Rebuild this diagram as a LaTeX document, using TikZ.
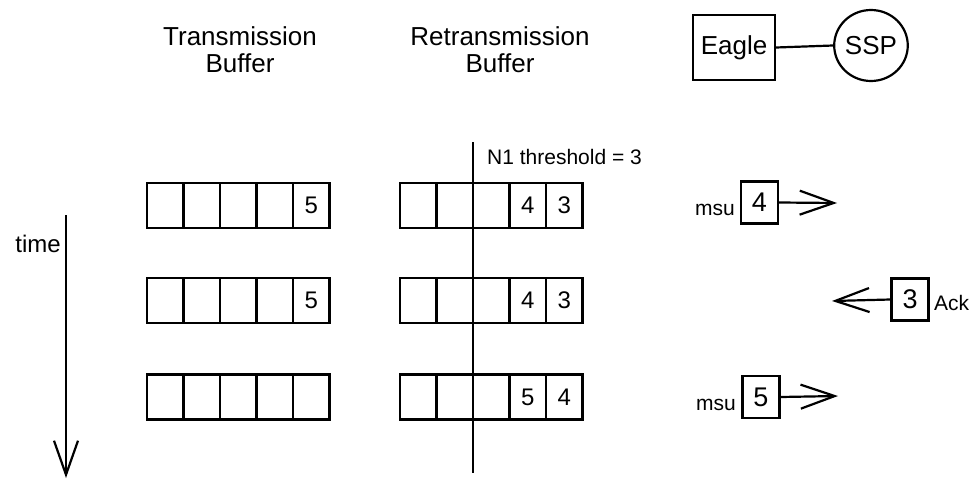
\documentclass[tikz,border=0pt]{standalone}
\usepackage{fontspec}
\setmainfont{Liberation Sans}
\usetikzlibrary{arrows.meta,positioning,shapes.geometric}

\begin{document}
\begin{tikzpicture}[
    x=1pt, y=1pt,
    cell/.style={draw, line width=2.2pt, minimum width=36.5pt, minimum height=45pt, inner sep=0pt, outer sep=0pt, font=\fontsize{24}{24}\selectfont},
    title/.style={align=center, font=\fontsize{26}{27}\selectfont},
    msgbox/.style={draw, line width=2.2pt, minimum width=37pt, minimum height=42pt, inner sep=0pt, font=\fontsize{27}{27}\selectfont},
    lbl/.style={inner sep=0pt, font=\fontsize{21}{21}\selectfont},
    flow/.style={-{Straight Barb[length=34pt, width=24pt]}, line width=2.2pt},
    plain/.style={line width=2.2pt}
]
\useasboundingbox (0,0) rectangle (970,-479);

% headings
\node[title] (txhead) at (240,-50) {Transmission\\Buffer};
\node[title] (rxhead) at (500,-50) {Retransmission\\Buffer};

\node[draw, line width=2.2pt, minimum width=82pt, minimum height=65pt, inner sep=0pt, font=\fontsize{26}{26}\selectfont] (eagle) at (734,-47.5) {Eagle};
\node[draw, ellipse, line width=2.2pt, minimum width=63pt, minimum height=71pt, inner sep=0pt, font=\fontsize{26}{26}\selectfont, right=57pt of eagle, yshift=2pt] (ssp) {SSP};
\draw[plain] (eagle.east) -- (ssp.west);

% buffers, one row per time step
\foreach \row/\ypos/\tx/\ry/\rz in {1/-205.5/5/4/3, 2/-300.5/5/4/3, 3/-397/{}/5/4} {
  \node[cell] (t\row-1) at (165.25,\ypos) {};
  \foreach \i [count=\j] in {2,...,4}
    \node[cell, right=0pt of t\row-\j] (t\row-\i) {};
  \node[cell, right=0pt of t\row-4] (t\row-5) {\tx};
  \node[cell] (r\row-1) at (418.25,\ypos) {};
  \node[cell, right=0pt of r\row-1] (r\row-2) {};
  \node[cell, right=0pt of r\row-2] (r\row-3) {};
  \node[cell, right=0pt of r\row-3] (r\row-4) {\ry};
  \node[cell, right=0pt of r\row-4] (r\row-5) {\rz};
}

% N1 threshold
\coordinate (thtop) at (473,-142);
\coordinate (thbot) at (473,-473);
\draw[plain] (thtop) -- (thbot);
\node[lbl, anchor=base west] (thlbl) at (487,-164) {N1 threshold = 3};

% time axis
\coordinate (ttop) at (66,-215);
\coordinate (tbot) at (66,-478);
\draw[flow] (ttop) -- (tbot);
\node[lbl, anchor=base east, font=\fontsize{24}{24}\selectfont] (tlbl) at (61,-252) {time};

% messages
\node[msgbox] (msg1) at (759.5,-202.5) {4};
\node[lbl, anchor=base east] (msu1) at (735,-215) {msu};
\coordinate (msg1end) at (837,-203);
\draw[flow] (msg1.east) -- (msg1end);

\node[msgbox] (ack) at (910,-299.5) {3};
\node[lbl, anchor=base west] (acklbl) at (934,-310) {Ack};
\coordinate (ackend) at (832,-301);
\draw[flow] (ack.west) -- (ackend);

\node[msgbox] (msg2) at (761,-397) {5};
\node[lbl, anchor=base east] (msu2) at (736,-410) {msu};
\coordinate (msg2end) at (838,-396);
\draw[flow] (msg2.east) -- (msg2end);
\end{tikzpicture}
\end{document}
